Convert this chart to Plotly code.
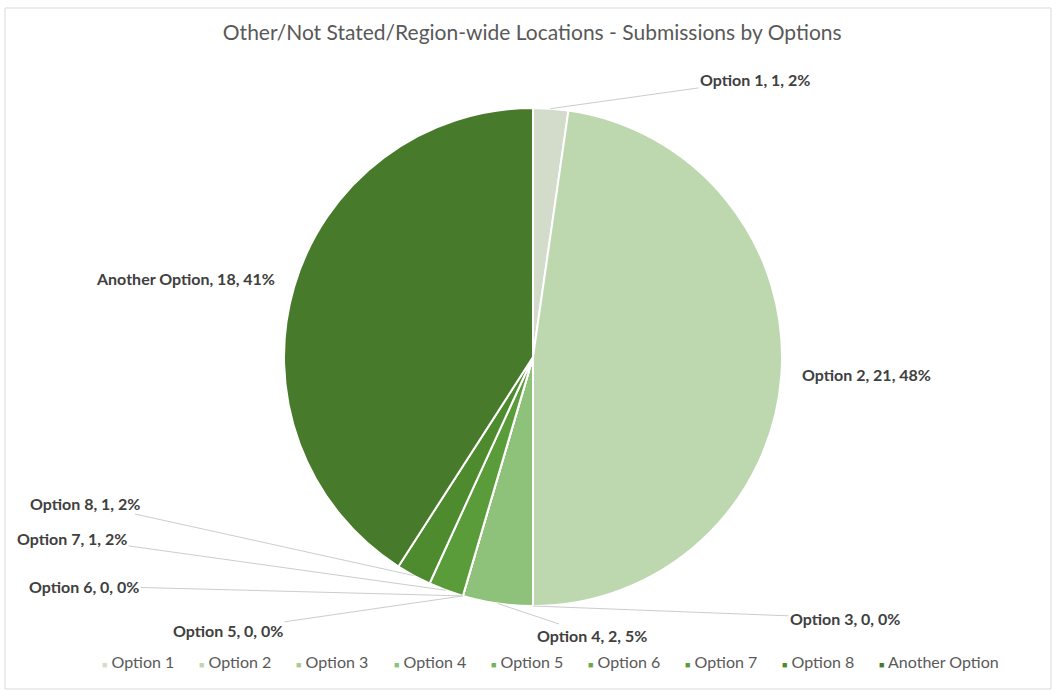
import math
import plotly.graph_objects as go

# Submission counts per option
categories = ["Option 1", "Option 2", "Option 3", "Option 4", "Option 5",
              "Option 6", "Option 7", "Option 8", "Another Option"]
counts = [1, 21, 0, 2, 0, 0, 1, 1, 18]

slice_colors = ["#d3dccb", "#bdd7af", "#a6cb93", "#8ec27a", "#76b259",
                "#66a844", "#5a9c39", "#4e8a2e", "#477a2b"]

# Label placement (pixels) and whether each label gets a leader line
label_pos = [(755, 80), (866, 374), (845, 618), (592, 635), (228, 630),
             (84, 586), (72, 538), (85, 503), (185, 278)]
has_leader = [True, False, True, True, True, True, True, True, False]

# Legend entry text start positions (pixels)
legend_x = [100, 197, 294, 392, 489, 586, 683, 780, 877]
legend_y = 661

W, H = 1056, 692
CX, CY, R = 533, 357, 249
FONT = "Lato, 'Open Sans', sans-serif"

total = sum(counts)
pct = [round(100 * v / total) for v in counts]

fig = go.Figure()
fig.add_trace(go.Pie(
    labels=categories,
    values=counts,
    sort=False,
    direction="clockwise",
    rotation=0,
    marker=dict(colors=slice_colors, line=dict(color="white", width=2)),
    textinfo="none",
    hoverinfo="label+value+percent",
    showlegend=False,
    domain=dict(x=[(CX - R) / W, (CX + R) / W],
                y=[1 - (CY + R) / H, 1 - (CY - R) / H]),
))

label_font = dict(family=FONT, size=16, color="#404040")
annotations = []
cum = 0.0
for name, v, p, (lx, ly), lead in zip(categories, counts, pct, label_pos, has_leader):
    mid = (cum + v / 2) / total * 2 * math.pi
    cum += v
    text = f"<b>{name}, {v}, {p}%</b>"
    if lead:
        tx = CX + R * math.sin(mid)
        ty = CY - R * math.cos(mid)
        annotations.append(dict(
            x=tx / W, y=1 - ty / H, xref="paper", yref="paper",
            ax=lx - tx, ay=ly - ty, axref="pixel", ayref="pixel",
            text=text, showarrow=True, arrowhead=0, arrowwidth=1,
            arrowcolor="#cccccc", standoff=0, font=label_font,
        ))
    else:
        annotations.append(dict(
            x=lx / W, y=1 - ly / H, xref="paper", yref="paper",
            xanchor="center", yanchor="middle",
            text=text, showarrow=False, font=label_font,
        ))

# Legend row
for name, col, lx in zip(categories, slice_colors, legend_x):
    annotations.append(dict(
        x=lx / W, y=1 - legend_y / H, xref="paper", yref="paper",
        xanchor="left", yanchor="middle", showarrow=False,
        text=f"<span style='color:{col};font-size:9px'>■</span> {name}",
        font=dict(family=FONT, size=16, color="#595959"),
    ))

fig.update_layout(
    width=W, height=H,
    margin=dict(l=0, r=0, t=0, b=0),
    paper_bgcolor="white",
    plot_bgcolor="white",
    title=dict(
        text="Other/Not Stated/Region-wide Locations - Submissions by Options",
        x=0.504, xanchor="center", y=1 - 33 / H, yanchor="middle",
        font=dict(family=FONT, size=21, color="#595959"),
    ),
    annotations=annotations,
    shapes=[dict(type="rect", xref="paper", yref="paper",
                 x0=5 / W, x1=1051 / W, y0=1 - 689 / H, y1=1 - 8 / H,
                 line=dict(color="#d9d9d9", width=1), fillcolor="rgba(0,0,0,0)")],
)

fig.write_html("out.html")
